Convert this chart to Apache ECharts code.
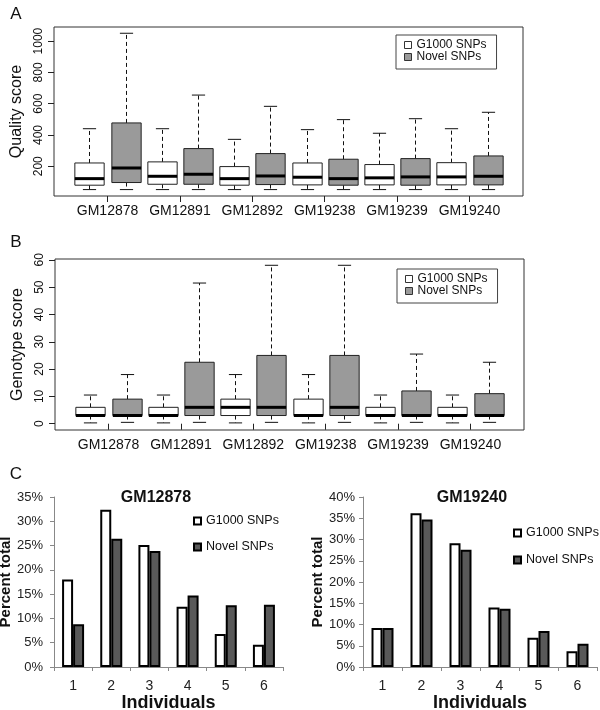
<!DOCTYPE html>
<html>
<head>
<meta charset="utf-8">
<script src="https://cdn.jsdelivr.net/npm/echarts@6/dist/echarts.min.js"></script>
<style>
html,body{margin:0;padding:0;background:#fff;}
#chart{width:600px;height:710px;}
</style>
</head>
<body>
<div id="chart"></div>
<script>
// ---------- data ----------
const individuals = ['GM12878', 'GM12891', 'GM12892', 'GM19238', 'GM19239', 'GM19240'];
const seriesNames = ['G1000 SNPs', 'Novel SNPs'];
// box stats: [min, q1, median, q3, max]
const qualityG1000 = [[51, 79, 121, 221, 440], [51, 85, 136, 228, 440], [51, 79, 121, 198, 372], [51, 81, 130, 221, 434], [51, 81, 126, 211, 411], [51, 81, 132, 223, 440]];
const qualityNovel = [[51, 96, 189, 477, 1050], [51, 85, 149, 313, 655], [51, 83, 138, 281, 583], [51, 79, 121, 245, 498], [51, 79, 132, 249, 504], [51, 81, 136, 266, 545]];
const genotypeG1000 = [[0.3, 3, 3, 6, 10.5], [0.3, 3, 3, 6, 10.5], [0.3, 3, 6, 9, 18], [0.3, 3, 3, 9, 18], [0.3, 3, 3, 6, 10.5], [0.3, 3, 3, 6, 10.5]];
const genotypeNovel = [[0.5, 3, 3, 9, 18], [0.5, 3, 6, 22.5, 51.5], [0.5, 3, 6, 25, 58], [0.5, 3, 6, 25, 58], [0.5, 3, 3, 12, 25.5], [0.5, 3, 3, 11, 22.5]];
const qualityTicks = [200, 400, 600, 800, 1000];
const genotypeTicks = [0, 10, 20, 30, 40, 50, 60];

const individualCounts = ['1', '2', '3', '4', '5', '6'];
const gm12878G1000 = [18, 32.4, 25.1, 12.4, 6.8, 4.6];
const gm12878Novel = [8.8, 26.4, 23.9, 14.7, 12.7, 12.8];
const gm19240G1000 = [9.2, 36.2, 29.1, 14.0, 6.9, 3.7];
const gm19240Novel = [9.2, 34.7, 27.6, 13.7, 8.5, 5.5];

// ---------- helpers ----------
const FONT = 'Liberation Sans, Arial, Helvetica, sans-serif';
const BOX_W = 0.405;
const GREY_BOX = '#9a9a9a';
const GREY_BAR = '#595959';

function makeBoxRender(offset, fill) {
  return function (params, api) {
    const x = api.value(0) + offset;
    const c = (v) => api.coord([x, v]);
    const pMin = c(api.value(1)), pQ1 = c(api.value(2)), pMed = c(api.value(3)), pQ3 = c(api.value(4)), pMax = c(api.value(5));
    const cx = Math.round(pMin[0]) + 0.5;
    const half = api.size([BOX_W, 0])[0] / 2;
    const cap = half * 0.45;
    const dash = { stroke: '#111', lineWidth: 1, lineDash: [4, 3] };
    const solid = { stroke: '#111', lineWidth: 1 };
    return {
      type: 'group',
      children: [
        { type: 'line', shape: { x1: cx, y1: pQ3[1], x2: cx, y2: pMax[1] }, style: dash },
        { type: 'line', shape: { x1: cx, y1: pQ1[1], x2: cx, y2: pMin[1] }, style: dash },
        { type: 'line', shape: { x1: cx - cap, y1: pMax[1], x2: cx + cap, y2: pMax[1] }, style: solid },
        { type: 'line', shape: { x1: cx - cap, y1: pMin[1], x2: cx + cap, y2: pMin[1] }, style: solid },
        { type: 'rect', shape: { x: cx - half, y: pQ3[1], width: half * 2, height: pQ1[1] - pQ3[1] }, style: { fill: fill, stroke: '#222', lineWidth: 1 } },
        { type: 'line', shape: { x1: cx - half, y1: pMed[1], x2: cx + half, y2: pMed[1] }, style: { stroke: '#000', lineWidth: 3 } }
      ]
    };
  };
}
function boxData(arr) { return arr.map((d, i) => [i + 1].concat(d)); }
function boxSeries(name, arr, offset, fill, axisIdx) {
  return {
    type: 'custom', name: name, coordinateSystem: 'cartesian2d',
    xAxisIndex: axisIdx, yAxisIndex: axisIdx,
    renderItem: makeBoxRender(offset, fill),
    encode: { x: 0, y: [1, 2, 3, 4, 5] },
    itemStyle: { color: fill, borderColor: '#222' },
    data: boxData(arr)
  };
}
function boxXAxis(gridIndex) {
  return {
    type: 'value', gridIndex: gridIndex, min: 0.26, max: 6.74,
    axisLine: { show: false },
    splitLine: { show: false },
    axisTick: { show: true, length: 6, lineStyle: { color: '#222' }, customValues: [1, 2, 3, 4, 5, 6] },
    axisLabel: { show: true, customValues: [1, 2, 3, 4, 5, 6], formatter: (v) => individuals[Math.round(v) - 1], fontFamily: FONT, fontSize: 14, color: '#111', margin: 8 }
  };
}
function boxYAxis(gridIndex, min, max, ticks, title) {
  return {
    type: 'value', gridIndex: gridIndex, min: min, max: max,
    axisLine: { show: false },
    splitLine: { show: false },
    axisTick: { show: true, length: 6, lineStyle: { color: '#222' }, customValues: ticks },
    axisLabel: { show: true, customValues: ticks, rotate: 90, formatter: (v) => String(v), fontFamily: FONT, fontSize: 12, color: '#111', margin: 9 },
    name: title, nameLocation: 'middle', nameRotate: 90, nameGap: 29,
    nameTextStyle: { fontFamily: FONT, fontSize: 16, color: '#111' }
  };
}
function barXAxis(gridIndex) {
  return {
    type: 'category', gridIndex: gridIndex, data: individualCounts,
    axisLine: { show: true, lineStyle: { color: '#888', width: 1 } },
    axisTick: { show: true, length: 4, lineStyle: { color: '#888' } },
    axisLabel: { fontFamily: FONT, fontSize: 14, color: '#222', margin: 12 },
    name: 'Individuals', nameLocation: 'middle', nameGap: 23,
    nameTextStyle: { fontFamily: FONT, fontSize: 18, fontWeight: 'bold', color: '#111' }
  };
}
function barYAxis(gridIndex, max, margin) {
  return {
    type: 'value', gridIndex: gridIndex, min: 0, max: max, interval: 5,
    axisLine: { show: true, lineStyle: { color: '#888', width: 1 } },
    axisTick: { show: true, length: 4, lineStyle: { color: '#888' } },
    splitLine: { show: false },
    axisLabel: { formatter: '{value}%', fontFamily: FONT, fontSize: 13, color: '#222', margin: margin },
    name: 'Percent total', nameLocation: 'middle', nameRotate: 90, nameGap: 36,
    nameTextStyle: { fontFamily: FONT, fontSize: 15, fontWeight: 'bold', color: '#111' }
  };
}
function barSeries(name, data, fill, idx) {
  return {
    type: 'bar', name: name, xAxisIndex: idx, yAxisIndex: idx, data: data,
    barWidth: 11, barGap: '0%',
    itemStyle: { color: fill, borderColor: '#000', borderWidth: 2 }
  };
}
function boxLegend(left, top) {
  return {
    orient: 'vertical', left: left, top: top,
    itemWidth: 7, itemHeight: 7, itemGap: 0, itemTextGap: 8,
    padding: [4, 10, 6, 8],
    borderColor: '#444', borderWidth: 1, borderRadius: 0,
    textStyle: { fontFamily: FONT, fontSize: 12, lineHeight: 11, color: '#111' },
    selectedMode: false,
    data: [
      { name: seriesNames[0], icon: 'rect', itemStyle: { color: '#fff', borderColor: '#333', borderWidth: 1 } },
      { name: seriesNames[1], icon: 'rect', itemStyle: { color: GREY_BOX, borderColor: '#333', borderWidth: 1 } }
    ]
  };
}
function barLegend(left, top, gap) {
  return {
    orient: 'vertical', left: left, top: top,
    itemWidth: 7, itemHeight: 7, itemGap: gap, itemTextGap: 2,
    padding: 0,
    textStyle: { fontFamily: FONT, fontSize: 12.5, lineHeight: 14, color: '#111' },
    selectedMode: false,
    data: [
      { name: seriesNames[0], icon: 'rect', itemStyle: { color: '#fff', borderColor: '#000', borderWidth: 2 } },
      { name: seriesNames[1], icon: 'rect', itemStyle: { color: GREY_BAR, borderColor: '#000', borderWidth: 2 } }
    ]
  };
}

const chart = echarts.init(document.getElementById('chart'), null, { renderer: 'canvas' });
const option = {
  animation: false,
  backgroundColor: '#fff',
  title: [
    { text: 'GM12878', left: 156, top: 490, textAlign: 'center', padding: 0, textStyle: { fontFamily: FONT, fontSize: 16, fontWeight: 'bold', color: '#111' } },
    { text: 'GM19240', left: 472, top: 490, textAlign: 'center', padding: 0, textStyle: { fontFamily: FONT, fontSize: 16, fontWeight: 'bold', color: '#111' } }
  ],
  legend: [
    boxLegend(396, 35),
    boxLegend(397, 269),
    barLegend(193, 514, 12),
    barLegend(513, 526, 13)
  ],
  grid: [
    { left: 54, top: 27, width: 469, height: 169, show: true, borderColor: '#333', borderWidth: 1, backgroundColor: 'transparent', outerBoundsMode: 'none' },
    { left: 55, top: 259, width: 469, height: 171, show: true, borderColor: '#333', borderWidth: 1, backgroundColor: 'transparent', outerBoundsMode: 'none' },
    { left: 54, top: 497, width: 229, height: 170, outerBoundsMode: 'none' },
    { left: 363, top: 497, width: 234, height: 170, outerBoundsMode: 'none' }
  ],
  xAxis: [boxXAxis(0), boxXAxis(1), barXAxis(2), barXAxis(3)],
  yAxis: [
    boxYAxis(0, 10, 1090, qualityTicks, 'Quality score'),
    boxYAxis(1, -2.3, 60.3, genotypeTicks, 'Genotype score'),
    barYAxis(2, 35, 11),
    barYAxis(3, 40, 8)
  ],
  graphic: [
    { type: 'text', x: 16, y: 14, style: { text: 'A', font: '17px ' + FONT, fill: '#111', textAlign: 'center', textVerticalAlign: 'middle' } },
    { type: 'text', x: 16, y: 242, style: { text: 'B', font: '17px ' + FONT, fill: '#111', textAlign: 'center', textVerticalAlign: 'middle' } },
    { type: 'text', x: 16, y: 474, style: { text: 'C', font: '17px ' + FONT, fill: '#111', textAlign: 'center', textVerticalAlign: 'middle' } }
  ],
  series: [
    boxSeries(seriesNames[0], qualityG1000, -0.25, '#fff', 0),
    boxSeries(seriesNames[1], qualityNovel, 0.25, GREY_BOX, 0),
    boxSeries(seriesNames[0], genotypeG1000, -0.25, '#fff', 1),
    boxSeries(seriesNames[1], genotypeNovel, 0.25, GREY_BOX, 1),
    barSeries(seriesNames[0], gm12878G1000, '#fff', 2),
    barSeries(seriesNames[1], gm12878Novel, GREY_BAR, 2),
    barSeries(seriesNames[0], gm19240G1000, '#fff', 3),
    barSeries(seriesNames[1], gm19240Novel, GREY_BAR, 3)
  ]
};
chart.setOption(option);
</script>
</body>
</html>
